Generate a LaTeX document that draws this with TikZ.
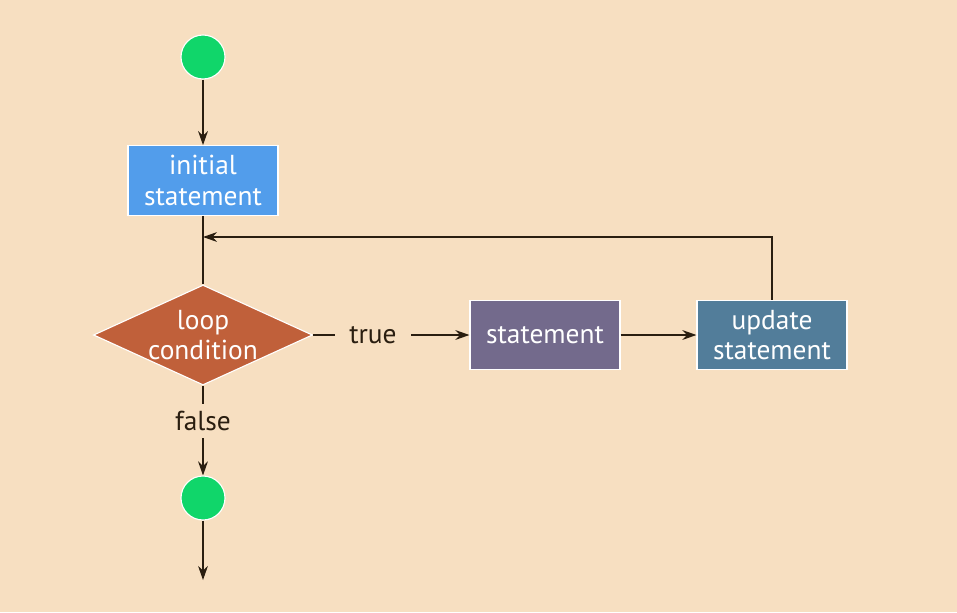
\documentclass[tikz,border=0pt]{standalone}
\usepackage{fontspec}
\setmainfont{PT Sans}
\usetikzlibrary{shapes.geometric,arrows.meta}
\definecolor{bgpeach}{HTML}{F7DFC1}
\definecolor{startgreen}{HTML}{10D66A}
\definecolor{initblue}{HTML}{529DEB}
\definecolor{condrust}{HTML}{C0603A}
\definecolor{stmtpurple}{HTML}{736A8C}
\definecolor{updteal}{HTML}{527D9A}
\definecolor{linedark}{HTML}{2A1E10}

\begin{document}
\begin{tikzpicture}[x=0.025cm,y=-0.025cm,>={Stealth[length=10pt,width=7pt]},
    dot/.style={circle,fill=startgreen,draw=white,line width=0.8pt,minimum size=1.1cm,inner sep=0pt},
    box/.style={rectangle,draw=white,line width=0.8pt,minimum height=1.74cm,minimum width=3.75cm,align=center,text=white,font=\fontsize{19.5}{21.5}\selectfont},
    cond/.style={diamond,fill=condrust,draw=white,line width=0.8pt,aspect=2.19,minimum width=5.475cm,minimum height=2.5cm,inner sep=-7pt,align=center,text=white,font=\fontsize{19.5}{21.5}\selectfont},
    lbl/.style={text=linedark,inner sep=0pt,font=\fontsize{19.5}{21.5}\selectfont},
    flow/.style={draw=linedark,line width=0.9pt}]
\fill[bgpeach] (0,0) rectangle (957,612);
\useasboundingbox (0,0) rectangle (957,612);
\node[dot] (start) at (203,57) {};
\node[box,fill=initblue] (init) at (203,180.5) {initial\\statement};
\node[cond] (loop) at (203,335) {loop\\condition};
\node[box,fill=stmtpurple] (stmt) at (545,335) {statement};
\node[box,fill=updteal] (upd) at (772,335) {update\\statement};
\node[lbl,inner xsep=10pt] (true) at (373,335) {true};
\node[lbl,inner ysep=5pt] (false) at (203,421) {false};
\node[dot] (stop) at (203,498) {};
\coordinate (back) at (203,237);
\coordinate (out) at (203,580);
\draw[flow,->] (start)--(init);
\draw[flow] (init)--(loop);
\draw[flow,->] (upd.north) |- (back);
\draw[flow] (loop.east)--(true.west);
\draw[flow,->] (true.east)--(stmt.west);
\draw[flow,->] (stmt)--(upd);
\draw[flow] (loop.south)--(false.north);
\draw[flow,->] (false.south)--(stop);
\draw[flow,->] (stop)--(out);
\end{tikzpicture}
\end{document}
